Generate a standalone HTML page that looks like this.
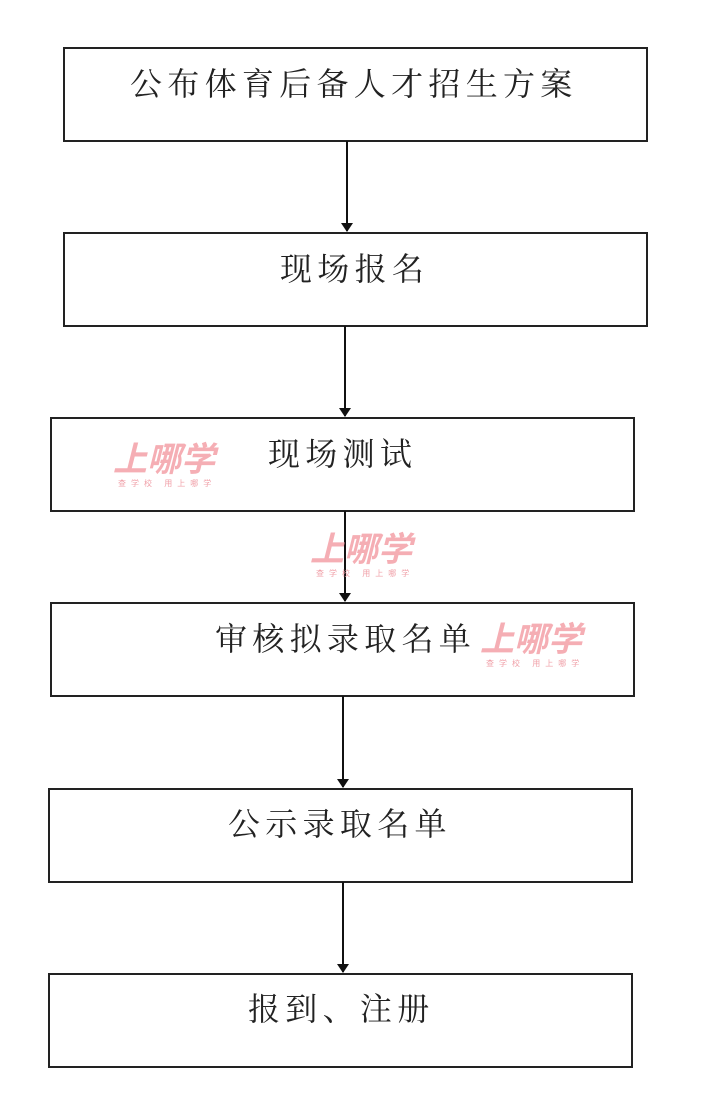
<!DOCTYPE html>
<html><head><meta charset="utf-8"><style>
body{margin:0;width:722px;height:1107px;background:#fff;position:relative;overflow:hidden;font-family:"Liberation Serif","Noto Serif CJK SC",serif}
.b{position:absolute;border:2px solid #222;box-sizing:border-box;width:585px;height:95px}
.t{position:absolute;font-size:32px;letter-spacing:5.3px;color:#222;white-space:nowrap;line-height:32px}
.wm{position:absolute;color:#f4a0a8;font-family:"Liberation Sans","Noto Sans CJK SC",sans-serif;font-weight:bold;font-size:34px;font-style:italic;opacity:.85}
.ws{position:absolute;color:#f0a0a8;font-family:"Liberation Sans","Noto Sans CJK SC",sans-serif;font-size:8px;letter-spacing:5px}
</style></head><body>
<div class="b" style="left:63px;top:47px"></div>
<div class="b" style="left:63px;top:232px"></div>
<div class="b" style="left:50px;top:417px"></div>
<div class="b" style="left:50px;top:602px"></div>
<div class="b" style="left:48px;top:788px"></div>
<div class="b" style="left:48px;top:973px"></div>
<div class="t" style="left:130px;top:68px">公布体育后备人才招生方案</div>
<div class="t" style="left:280px;top:253px">现场报名</div>
<div class="t" style="left:268px;top:438px">现场测试</div>
<div class="t" style="left:215px;top:623px">审核拟录取名单</div>
<div class="t" style="left:228px;top:808px">公示录取名单</div>
<div class="t" style="left:248px;top:993px">报到、注册</div>
<svg width="722" height="1107" style="position:absolute;left:0;top:0">
<defs><marker id="a" markerWidth="10" markerHeight="12" refX="8" refY="6" orient="auto" markerUnits="userSpaceOnUse"><path d="M0,0 L9,6 L0,12 z" fill="#111"/></marker></defs>
<g stroke="#111" stroke-width="2" marker-end="url(#a)">
<line x1="347" y1="141" x2="347" y2="231"/>
<line x1="345" y1="326" x2="345" y2="416"/>
<line x1="345" y1="511" x2="345" y2="601"/>
<line x1="343" y1="696" x2="343" y2="787"/>
<line x1="343" y1="882" x2="343" y2="972"/>
</g></svg>
<div class="wm" style="left:113px;top:432px">上哪学</div>
<div class="ws" style="left:118px;top:478px">查学校 用上哪学</div>
<div class="wm" style="left:310px;top:522px">上哪学</div>
<div class="ws" style="left:316px;top:568px">查学校 用上哪学</div>
<div class="wm" style="left:480px;top:612px">上哪学</div>
<div class="ws" style="left:486px;top:658px">查学校 用上哪学</div>
</body></html>
